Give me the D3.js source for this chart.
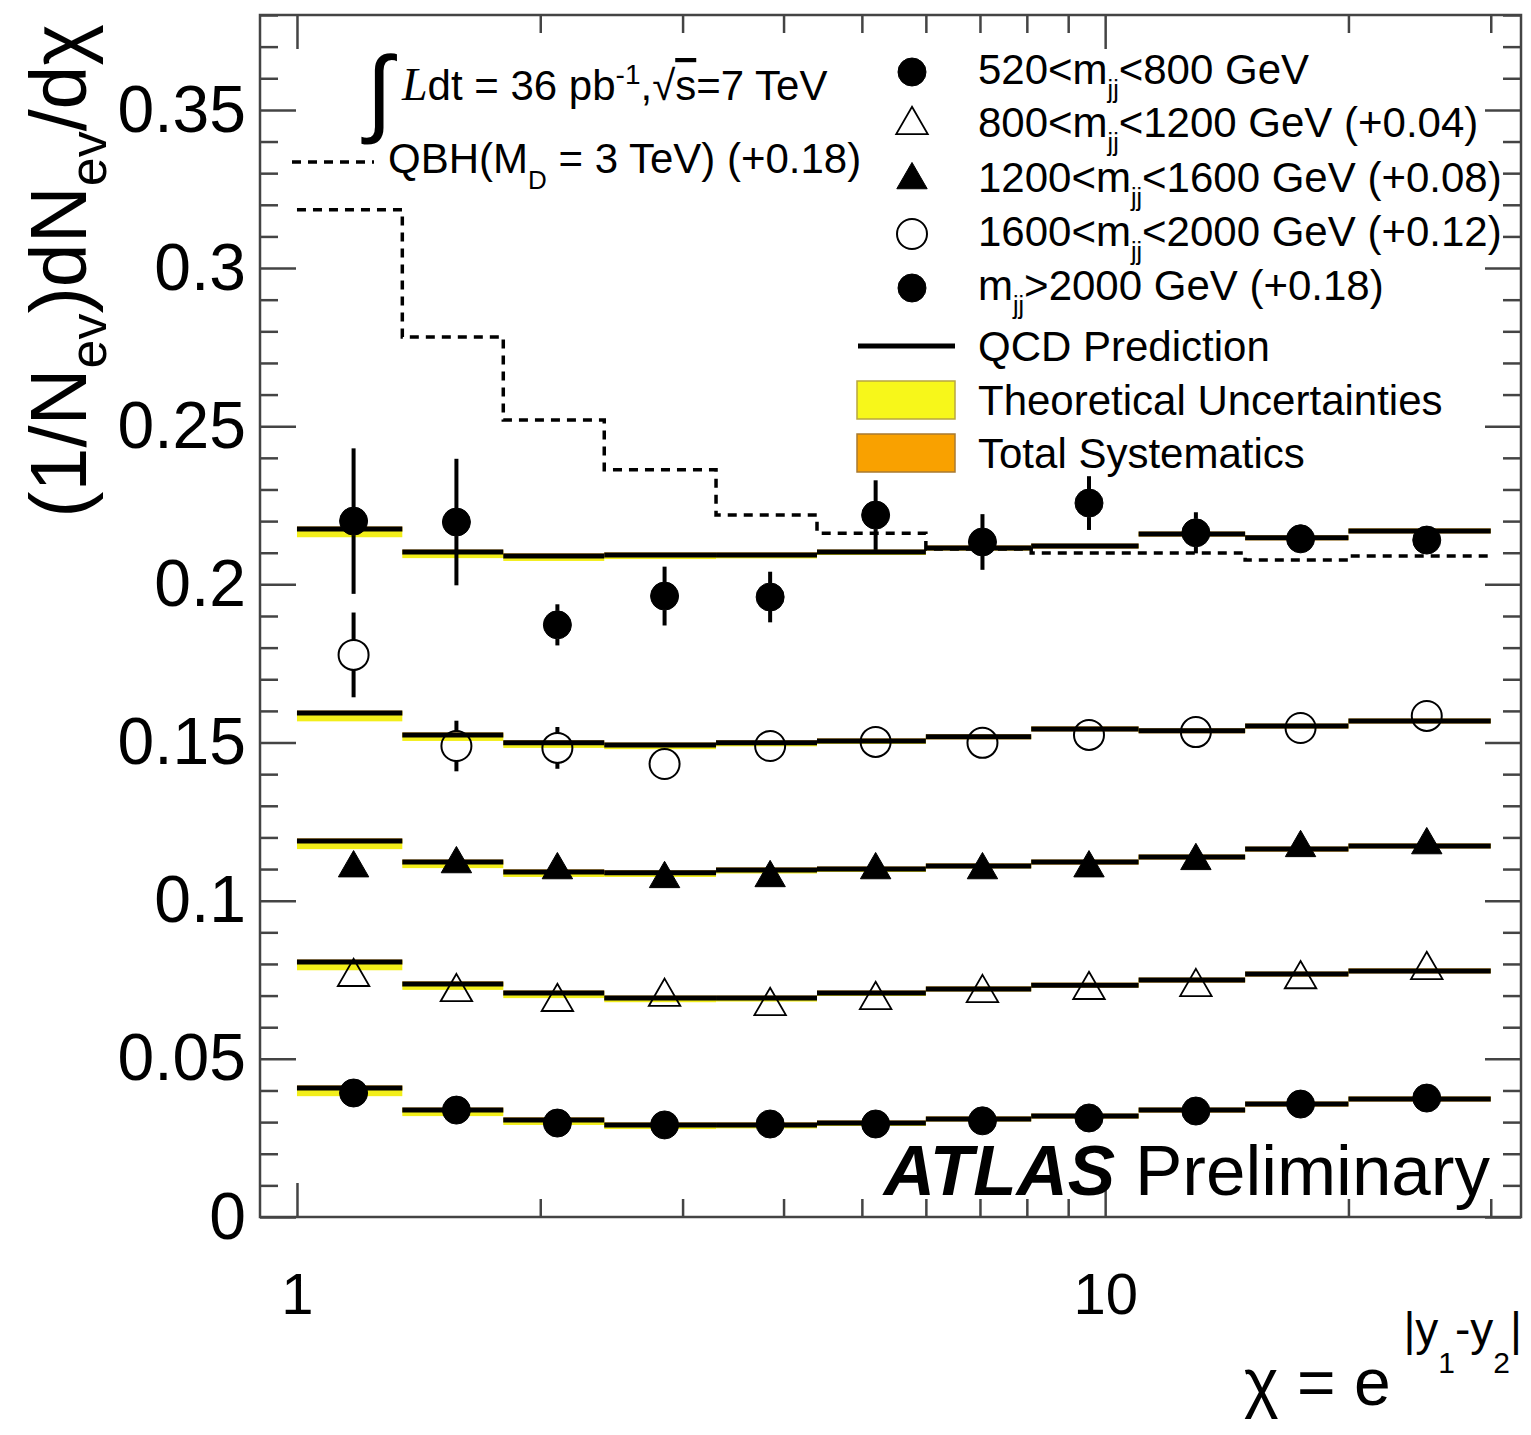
<!DOCTYPE html>
<html>
<head>
<meta charset="utf-8">
<script src="https://cdn.jsdelivr.net/npm/d3@7"></script>
<style>
  body { margin: 0; background: #fff; }
  svg { display: block; }
  text { font-family: "Liberation Sans", Arial, Helvetica, sans-serif; fill: #000; }
</style>
</head>
<body>
<div id="chart"></div>
<script>
// bin edges in chi and the values (offsets removed)
const edges = [1, 1.35, 1.8, 2.4, 3.3, 4.4, 6.0, 8.1, 11, 14.9, 20, 30]
const offsets = [0, 0.04, 0.08, 0.12, 0.18]

const data1 = [0.0392, 0.0338, 0.0297, 0.0291, 0.0294, 0.0294, 0.0304, 0.0313, 0.0335, 0.0357, 0.0376]
const data2 = [0.0359, 0.0311, 0.0280, 0.0296, 0.0267, 0.0286, 0.0308, 0.0318, 0.0327, 0.0352, 0.0381]
const data3 = [0.0303, 0.0316, 0.0297, 0.0269, 0.0272, 0.0297, 0.0297, 0.0303, 0.0326, 0.0367, 0.0376]
const data4 = [0.0577, 0.0289, 0.0283, 0.0232, 0.0289, 0.0302, 0.0299, 0.0324, 0.0333, 0.0346, 0.0384]
const data5 = [0.0400, 0.0397, 0.0072, 0.0163, 0.0160, 0.0419, 0.0334, 0.0457, 0.0363, 0.0344, 0.0340]

const err1 = [0.003, 0.003, 0.003, 0.003, 0.003, 0.003, 0.003, 0.003, 0.003, 0.003, 0.003]
const err2 = [0.003, 0.003, 0.003, 0.003, 0.003, 0.003, 0.003, 0.003, 0.003, 0.003, 0.003]
const err3 = [0.003, 0.003, 0.003, 0.003, 0.003, 0.003, 0.003, 0.003, 0.003, 0.003, 0.003]
const err4 = [0.0134, 0.0080, 0.0066, 0.0045, 0.0035, 0.0035, 0.0035, 0.0035, 0.0035, 0.0035, 0.0035]
const err5 = [0.0230, 0.0200, 0.0065, 0.0093, 0.0080, 0.0110, 0.0088, 0.0085, 0.0065, 0.0045, 0.0040]

const qcd1 = [0.0408, 0.0338, 0.0307, 0.0291, 0.0291, 0.0297, 0.0310, 0.0319, 0.0338, 0.0357, 0.0373]
const qcd2 = [0.0406, 0.0337, 0.0308, 0.0292, 0.0292, 0.0308, 0.0321, 0.0333, 0.0349, 0.0368, 0.0378]
const qcd3 = [0.0389, 0.0322, 0.0291, 0.0288, 0.0297, 0.0300, 0.0310, 0.0322, 0.0338, 0.0363, 0.0373]
const qcd4 = [0.0393, 0.0324, 0.0299, 0.0292, 0.0299, 0.0305, 0.0318, 0.0343, 0.0337, 0.0352, 0.0368]
const qcd5 = [0.0375, 0.0302, 0.0290, 0.0293, 0.0293, 0.0302, 0.0315, 0.0321, 0.0359, 0.0347, 0.0369]

// uncertainty bands (below / above the QCD value)
const theoryDn = [0.0026, 0.0019, 0.0016, 0.0013, 0.0011, 0.0009, 0.0007, 0.0006, 0.0005, 0.0004, 0.0004]
const theoryUp = [0.0004, 0.0004, 0.0003, 0.0003, 0.0003, 0.0003, 0.0002, 0.0002, 0.0002, 0.0002, 0.0002]
const systDn = [0.0008, 0.0008, 0.0008, 0.0008, 0.0008, 0.0008, 0.0008, 0.0008, 0.0008, 0.0008, 0.0008]
const systUp = [0.0008, 0.0008, 0.0008, 0.0008, 0.0008, 0.0008, 0.0008, 0.0008, 0.0008, 0.0008, 0.0008]

// QBH (M_D = 3 TeV), drawn with +0.18
const qbh = [0.1384, 0.0982, 0.0720, 0.0562, 0.0419, 0.0362, 0.0312, 0.0299, 0.0299, 0.0277, 0.0290]
const qbhOffset = 0.18

const yMajor = [0, 0.05, 0.1, 0.15, 0.2, 0.25, 0.3, 0.35]
const xMajor = [1, 10]
const xMinor = [2, 3, 4, 5, 6, 7, 8, 9, 20, 30]

const legendRows = [
  { pre: '520<m', sub: 'jj', post: '<800 GeV' },
  { pre: '800<m', sub: 'jj', post: '<1200 GeV (+0.04)' },
  { pre: '1200<m', sub: 'jj', post: '<1600 GeV (+0.08)' },
  { pre: '1600<m', sub: 'jj', post: '<2000 GeV (+0.12)' },
  { pre: 'm', sub: 'jj', post: '>2000 GeV (+0.18)' }
]
const markerTypes = ['circle', 'triangle-open', 'triangle', 'circle-open', 'circle']

const series = [
  { vals: data1, errs: err1, qcd: qcd1 },
  { vals: data2, errs: err2, qcd: qcd2 },
  { vals: data3, errs: err3, qcd: qcd3 },
  { vals: data4, errs: err4, qcd: qcd4 },
  { vals: data5, errs: err5, qcd: qcd5 }
].map((s, i) => Object.assign(s, { off: offsets[i], marker: markerTypes[i] }))

const W = 1531, H = 1435
const L = 260, R = 1521, T = 15, B = 1217

const x = d3.scaleLog().domain([0.9, 32.7]).range([L, R])
const y = d3.scaleLinear().domain([0, 0.38]).range([B, T])

const svg = d3.select('#chart').append('svg')
  .attr('width', W)
  .attr('height', H)

const plot = svg.append('g')

// bin centres
const bins = edges.slice(0, -1).map((e, i) => ({ lo: e, hi: edges[i + 1], c: (e + edges[i + 1]) / 2 }))

// bands
series.forEach(s => {
  plot.append('g').selectAll('rect.syst')
    .data(bins)
    .enter().append('rect')
    .attr('x', d => x(d.lo))
    .attr('width', d => x(d.hi) - x(d.lo))
    .attr('y', (d, i) => y(s.qcd[i] + s.off + systUp[i]))
    .attr('height', (d, i) => y(s.qcd[i] + s.off - systDn[i]) - y(s.qcd[i] + s.off + systUp[i]))
    .attr('fill', '#e8a012')
  plot.append('g').selectAll('rect.theo')
    .data(bins)
    .enter().append('rect')
    .attr('x', d => x(d.lo))
    .attr('width', d => x(d.hi) - x(d.lo))
    .attr('y', (d, i) => y(s.qcd[i] + s.off + theoryUp[i]))
    .attr('height', (d, i) => y(s.qcd[i] + s.off - theoryDn[i]) - y(s.qcd[i] + s.off + theoryUp[i]))
    .attr('fill', '#f2ee1a')
})

// QCD prediction segments
series.forEach(s => {
  plot.append('g').selectAll('line')
    .data(bins)
    .enter().append('line')
    .attr('x1', d => x(d.lo))
    .attr('x2', d => x(d.hi))
    .attr('y1', (d, i) => y(s.qcd[i] + s.off))
    .attr('y2', (d, i) => y(s.qcd[i] + s.off))
    .attr('stroke', '#000')
    .attr('stroke-width', 5)
})

// QBH dashed histogram
const qbhPts = qbh.map((v, i) => [edges[i], v + qbhOffset]).concat([[edges[edges.length - 1], qbh[qbh.length - 1] + qbhOffset]])
plot.append('path')
  .datum(qbhPts)
  .attr('d', d3.line().x(d => x(d[0])).y(d => y(d[1])).curve(d3.curveStepAfter))
  .attr('fill', 'none')
  .attr('stroke', '#000')
  .attr('stroke-width', 3.5)
  .attr('stroke-dasharray', '9,7')

function drawMarker (g, type, cx, cy) {
  const open = type.endsWith('open')
  if (type.startsWith('circle')) {
    g.append('circle')
      .attr('cx', cx).attr('cy', cy)
      .attr('r', open ? 15 : 14)
      .attr('fill', open ? 'none' : '#000')
      .attr('stroke', '#000')
      .attr('stroke-width', open ? 2 : 1)
  } else {
    g.append('path')
      .attr('d', d3.symbol().type(d3.symbolTriangle).size(open ? 430 : 400)())
      .attr('transform', `translate(${cx}, ${cy})`)
      .attr('fill', open ? 'none' : '#000')
      .attr('stroke', '#000')
      .attr('stroke-width', open ? 1.8 : 1)
  }
}

// data points with error bars
series.forEach(s => {
  const g = plot.append('g')
  bins.forEach((b, i) => {
    const cx = x(b.c)
    const cy = y(s.vals[i] + s.off)
    const top = y(s.vals[i] + s.off + s.errs[i])
    const bot = y(s.vals[i] + s.off - s.errs[i])
    const r = 14
    if (cy - top > r) {
      g.append('line').attr('x1', cx).attr('x2', cx).attr('y1', top).attr('y2', cy - r)
        .attr('stroke', '#000').attr('stroke-width', 4)
    }
    if (bot - cy > r) {
      g.append('line').attr('x1', cx).attr('x2', cx).attr('y1', cy + r).attr('y2', bot)
        .attr('stroke', '#000').attr('stroke-width', 4)
    }
    drawMarker(g, s.marker, cx, cy)
  })
})

// axes (ticks inward on all four sides)
const axisColor = '#444'
function styleAxis (g) {
  g.select('.domain').remove()
  g.selectAll('.tick line').attr('stroke', axisColor).attr('stroke-width', 2.5)
}

const yMinor = d3.range(0, 39).filter(i => i % 5 !== 0).map(i => i / 100)

svg.append('g')
  .attr('transform', `translate(${L}, 0)`)
  .call(d3.axisLeft(y).tickValues(yMajor).tickSize(-36).tickPadding(14)
    .tickFormat(d => d === 0 ? '0' : d3.format('.2~f')(d)))
  .call(styleAxis)
  .call(g => g.selectAll('text').attr('font-size', 66).attr('font-family', '"Liberation Sans", Arial, sans-serif'))
svg.append('g')
  .attr('transform', `translate(${L}, 0)`)
  .call(d3.axisLeft(y).tickValues(yMinor).tickSize(-18).tickFormat(''))
  .call(styleAxis)
svg.append('g')
  .attr('transform', `translate(${R}, 0)`)
  .call(d3.axisRight(y).tickValues(yMajor).tickSize(-36).tickFormat(''))
  .call(styleAxis)
svg.append('g')
  .attr('transform', `translate(${R}, 0)`)
  .call(d3.axisRight(y).tickValues(yMinor).tickSize(-18).tickFormat(''))
  .call(styleAxis)

svg.append('g')
  .attr('transform', `translate(0, ${B})`)
  .call(d3.axisBottom(x).tickValues(xMajor).tickSize(-34).tickPadding(56).tickFormat(d3.format('d')))
  .call(styleAxis)
  .call(g => g.selectAll('text').attr('font-size', 58).attr('font-family', '"Liberation Sans", Arial, sans-serif'))
svg.append('g')
  .attr('transform', `translate(0, ${B})`)
  .call(d3.axisBottom(x).tickValues(xMinor).tickSize(-18).tickFormat(''))
  .call(styleAxis)
svg.append('g')
  .attr('transform', `translate(0, ${T})`)
  .call(d3.axisTop(x).tickValues(xMajor).tickSize(-34).tickFormat(''))
  .call(styleAxis)
svg.append('g')
  .attr('transform', `translate(0, ${T})`)
  .call(d3.axisTop(x).tickValues(xMinor).tickSize(-18).tickFormat(''))
  .call(styleAxis)

// frame
svg.append('rect')
  .attr('x', L).attr('y', T)
  .attr('width', R - L).attr('height', B - T)
  .attr('fill', 'none')
  .attr('stroke', axisColor)
  .attr('stroke-width', 2.5)

// y title
const yTitle = svg.append('text')
  .attr('transform', 'translate(86, 24) rotate(-90)')
  .attr('text-anchor', 'end')
  .attr('font-size', 79)
yTitle.append('tspan').text('(1/N')
yTitle.append('tspan').attr('dy', 20).attr('font-size', 52).text('ev')
yTitle.append('tspan').attr('dy', -20).text(')dN')
yTitle.append('tspan').attr('dy', 20).attr('font-size', 52).text('ev')
yTitle.append('tspan').attr('dy', -20).text('/dχ')

// x title
const xTitle = svg.append('text')
  .attr('x', 1522).attr('y', 1405)
  .attr('text-anchor', 'end')
  .attr('font-size', 66)
xTitle.append('tspan').text('χ = e')
xTitle.append('tspan').attr('dy', -60).attr('font-size', 46).text(' |y')
xTitle.append('tspan').attr('dy', 28).attr('font-size', 30).text('1')
xTitle.append('tspan').attr('dy', -28).attr('font-size', 46).text('-y')
xTitle.append('tspan').attr('dy', 28).attr('font-size', 30).text('2')
xTitle.append('tspan').attr('dy', -28).attr('font-size', 46).text('|')

// luminosity label
svg.append('text')
  .attr('x', 366).attr('y', 124)
  .attr('font-size', 96)
  .attr('font-family', '"DejaVu Serif", "Liberation Serif", serif')
  .text('∫')
const lumi = svg.append('text')
  .attr('x', 402).attr('y', 100)
  .attr('font-size', 42)
lumi.append('tspan').attr('font-family', '"Liberation Serif", serif').attr('font-style', 'italic').attr('font-size', 46).text('L')
lumi.append('tspan').text('dt = 36 pb')
lumi.append('tspan').attr('dy', -16).attr('font-size', 28).text('-1')
lumi.append('tspan').attr('dy', 16).text(',√')
lumi.append('tspan').style('text-decoration', 'overline').text('s')
lumi.append('tspan').text('=7 TeV')

// QBH legend
svg.append('line')
  .attr('x1', 292).attr('x2', 374).attr('y1', 162).attr('y2', 162)
  .attr('stroke', '#000').attr('stroke-width', 3.5).attr('stroke-dasharray', '9,7')
const qbhLab = svg.append('text')
  .attr('x', 388).attr('y', 173)
  .attr('font-size', 42)
qbhLab.append('tspan').text('QBH(M')
qbhLab.append('tspan').attr('dy', 16).attr('font-size', 26).text('D')
qbhLab.append('tspan').attr('dy', -16).text(' = 3 TeV) (+0.18)')

// data legend
const legY = [72, 125, 180, 234, 288]
legendRows.forEach((row, i) => {
  drawMarker(svg, markerTypes[i], 912, legY[i])
  const t = svg.append('text')
    .attr('x', 978).attr('y', legY[i] + 12)
    .attr('font-size', 42)
  t.append('tspan').text(row.pre)
  t.append('tspan').attr('dy', 14).attr('font-size', 25).text(row.sub)
  t.append('tspan').attr('dy', -14).text(row.post)
})

svg.append('line')
  .attr('x1', 858).attr('x2', 955).attr('y1', 346).attr('y2', 346)
  .attr('stroke', '#000').attr('stroke-width', 5)
svg.append('text').attr('x', 978).attr('y', 361).attr('font-size', 42).text('QCD Prediction')

svg.append('rect')
  .attr('x', 857).attr('y', 381).attr('width', 98).attr('height', 38)
  .attr('fill', '#f7f71a').attr('stroke', '#b8a640').attr('stroke-width', 1.5)
svg.append('text').attr('x', 978).attr('y', 415).attr('font-size', 42).text('Theoretical Uncertainties')

svg.append('rect')
  .attr('x', 857).attr('y', 434).attr('width', 98).attr('height', 38)
  .attr('fill', '#f9a100').attr('stroke', '#a87a30').attr('stroke-width', 1.5)
svg.append('text').attr('x', 978).attr('y', 468).attr('font-size', 42).text('Total Systematics')

// ATLAS label
const atlas = svg.append('text')
  .attr('x', 1490).attr('y', 1195)
  .attr('text-anchor', 'end')
  .attr('font-size', 71)
atlas.append('tspan').attr('font-weight', 'bold').attr('font-style', 'italic').text('ATLAS')
atlas.append('tspan').text(' Preliminary')
</script>
</body>
</html>
